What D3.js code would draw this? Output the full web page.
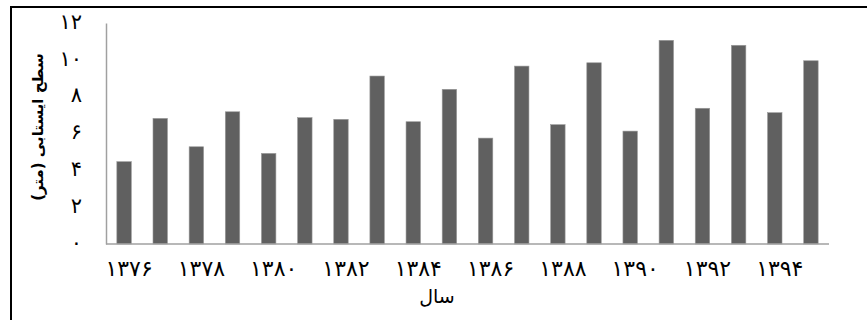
<!DOCTYPE html>
<html>
<head>
<meta charset="utf-8">
<script src="https://cdn.jsdelivr.net/npm/d3@7"></script>
<style>
  html, body { margin: 0; padding: 0; background: #fff; }
  svg { display: block; }
  text { font-family: "DejaVu Sans", "Noto Sans", sans-serif; fill: #000; }
</style>
</head>
<body>
<svg id="chart" width="867" height="320"></svg>
<script>
// Years (Solar Hijri) and groundwater level in metres
const years = [1376, 1377, 1378, 1379, 1380, 1381, 1382, 1383, 1384, 1385,
               1386, 1387, 1388, 1389, 1390, 1391, 1392, 1393, 1394, 1395];
const levels = [4.47, 6.82, 5.28, 7.18, 4.92, 6.86, 6.77, 9.12, 6.64, 8.40,
                5.75, 9.66, 6.48, 9.84, 6.13, 11.06, 7.37, 10.79, 7.13, 9.95];
const yTicks = [0, 2, 4, 6, 8, 10, 12];
const xTickYears = [1376, 1378, 1380, 1382, 1384, 1386, 1388, 1390, 1392, 1394];
const yTitle = "سطح ایستابی (متر)";
const xTitle = "سال";

const faDigits = "۰۱۲۳۴۵۶۷۸۹";
const toFa = v => String(v).replace(/[0-9]/g, d => faDigits[+d]);

const svg = d3.select("#chart");
const plot = { left: 106, right: 829, top: 23, bottom: 244 };

// frame around the figure
svg.append("rect")
  .attr("x", 11).attr("y", 7)
  .attr("width", 900).attr("height", 400)
  .attr("fill", "none").attr("stroke", "#000").attr("stroke-width", 2);

const x = d3.scaleBand()
  .domain(years)
  .range([plot.left, plot.right])
  .paddingInner(0.6)
  .paddingOuter(0.3);

const y = d3.scaleLinear().domain([0, 12]).range([plot.bottom, plot.top]);

// bars
svg.append("g").selectAll("rect")
  .data(years)
  .join("rect")
  .attr("x", d => x(d))
  .attr("y", (d, i) => y(levels[i]))
  .attr("width", x.bandwidth())
  .attr("height", (d, i) => y(0) - y(levels[i]))
  .attr("fill", "#606060")
  .attr("stroke", "#9a9a9a")
  .attr("stroke-width", 0.6);

// y axis
const yAxis = d3.axisLeft(y).tickValues(yTicks).tickSize(0).tickPadding(24)
  .tickFormat(toFa);
const gy = svg.append("g").attr("transform", `translate(${plot.left},0)`).call(yAxis);
gy.select(".domain").attr("stroke", "#a0a0a0").attr("stroke-width", 1.5);
gy.selectAll("text").style("font-size", "21px").style("letter-spacing", "2px")
  .attr("font-family", null).attr("dy", "0.25em");

// x axis
const xAxis = d3.axisBottom(x).tickValues(xTickYears).tickSize(0).tickPadding(16)
  .tickFormat(toFa);
const gx = svg.append("g").attr("transform", `translate(0,${plot.bottom})`).call(xAxis);
gx.select(".domain").attr("stroke", "#a0a0a0").attr("stroke-width", 1.5)
  .attr("d", `M${plot.left},0H${plot.right}`);
gx.selectAll("text").style("font-size", "22px").style("letter-spacing", "4px")
  .attr("font-family", null).attr("dx", 5);

// axis titles
svg.append("text")
  .attr("transform", `translate(38,127) rotate(-90)`)
  .attr("text-anchor", "middle")
  .attr("dominant-baseline", "middle")
  .style("font-size", "15px")
  .style("font-weight", "bold")
  .text(yTitle);

svg.append("text")
  .attr("x", 437).attr("y", 303)
  .attr("text-anchor", "middle")
  .style("font-size", "19px")
  .text(xTitle);
</script>
</body>
</html>
